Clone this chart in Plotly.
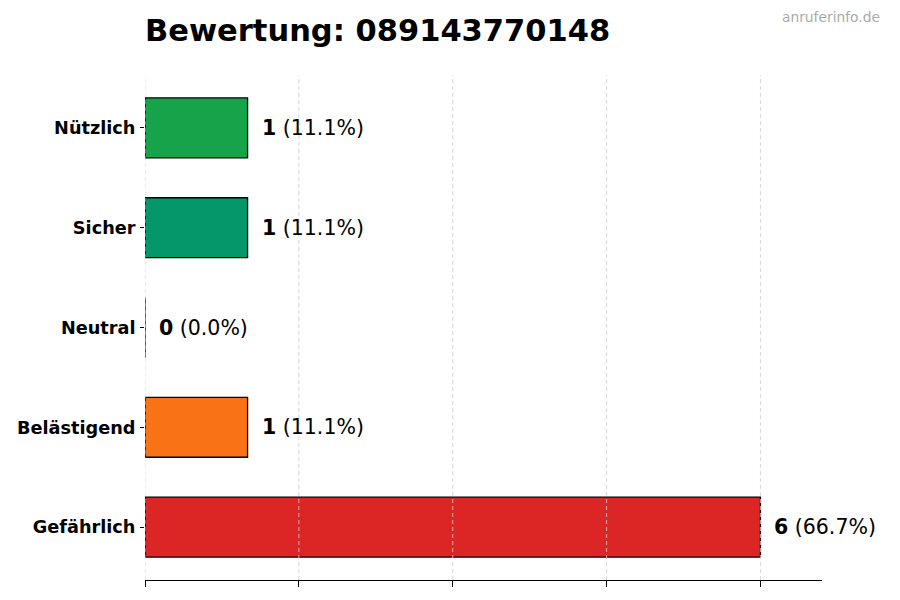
import plotly.graph_objects as go

# Bewertungen fuer die Nummer
categories = ["Gefährlich", "Belästigend", "Neutral", "Sicher", "Nützlich"]
counts = [6, 1, 0, 1, 1]
colors = ["#dc2626", "#f97316", "#9ca3af", "#059669", "#16a34a"]
grid_ticks = [0, 1.5, 3, 4.5, 6]

total = sum(counts)
percents = [c / total * 100 for c in counts]

# page body has an 8px margin, so the figure is a bit smaller
W, H = 884, 584

fig = go.Figure()
fig.add_trace(go.Bar(
    x=counts,
    y=categories,
    orientation="h",
    width=0.6,
    marker=dict(color=colors, line=dict(color="black", width=1.3)),
    hoverinfo="skip",
))

# value labels right of each bar
for cat, c, p in zip(categories, counts, percents):
    fig.add_annotation(
        x=c, y=cat, xref="x", yref="y",
        text=f"<b>{c}</b> ({p:.1f}%)",
        showarrow=False, xanchor="left", xshift=12,
        font=dict(family="DejaVu Sans", size=20.5, color="black"),
    )

# dashed grid drawn over the bars
for t in grid_ticks:
    fig.add_shape(
        type="line", xref="x", yref="paper", x0=t, x1=t, y0=0, y1=1,
        line=dict(color="#cfcfcf", width=0.8, dash="4px,3px"), layer="above",
    )

fig.add_annotation(
    text="anruferinfo.de", xref="paper", yref="paper",
    x=(882 - 145) / 677, y=(580 - 17) / 505,
    xanchor="right", yanchor="middle", showarrow=False,
    font=dict(family="DejaVu Sans", size=13.8, color="#aaaaaa"),
)

fig.update_layout(
    width=W, height=H,
    margin=dict(l=137, r=70, t=67, b=12, autoexpand=False),
    plot_bgcolor="white", paper_bgcolor="white",
    showlegend=False,
    title=dict(
        text="<b>Bewertung: 089143770148</b>",
        x=137 / W, xanchor="left", y=1 - 22 / H, yanchor="middle",
        font=dict(family="DejaVu Sans", size=30.5, color="black"),
    ),
    font=dict(family="DejaVu Sans", color="black"),
)
fig.update_xaxes(
    range=[0, 6.6], tickvals=grid_ticks, showticklabels=False,
    showgrid=False, zeroline=False, automargin=False,
    showline=True, linecolor="black", linewidth=1.2,
    ticks="outside", ticklen=6, tickcolor="black",
)
fig.update_yaxes(
    categoryorder="array", categoryarray=categories,
    range=[-0.53, 4.53], showgrid=False, zeroline=False, showline=False,
    automargin=False,
    ticks="outside", ticklen=4, tickcolor="black",
    tickfont=dict(family="DejaVu Sans", size=17.7, color="black"),
    ticklabelstandoff=1,
)
fig.update_yaxes(tickvals=categories, ticktext=[f"<b>{c}</b>" for c in categories])

fig.write_html("out.html")
